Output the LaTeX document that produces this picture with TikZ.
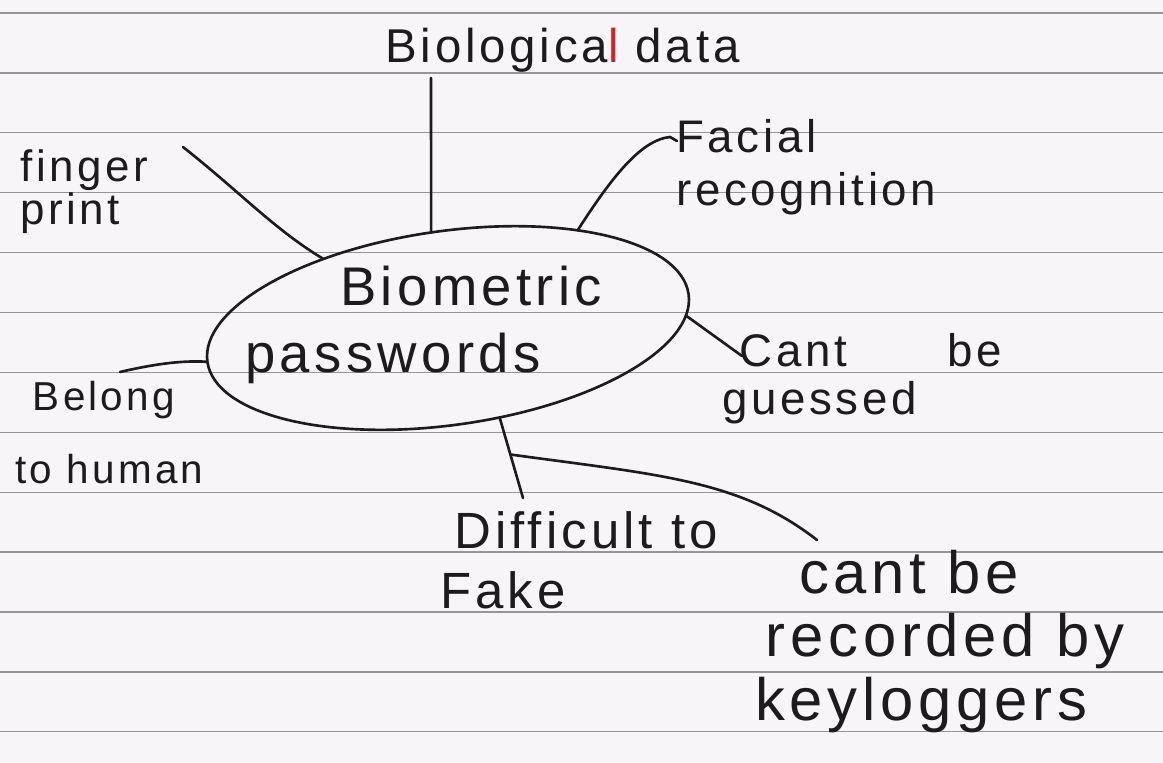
\documentclass[tikz,border=0pt]{standalone}
\usepackage{fontspec}
\setmainfont{Liberation Sans}[LetterSpace=8]
\usetikzlibrary{shapes.geometric}
\definecolor{paper}{RGB}{248,245,248}
\definecolor{ink}{RGB}{28,28,28}
\definecolor{ruling}{RGB}{150,150,150}
\definecolor{penred}{RGB}{200,40,40}

\begin{document}
\begin{tikzpicture}[
    x=0.02cm, y=-0.02cm,
    hub/.style={draw=ink, line width=1.5pt, ellipse, minimum width=9.72cm, minimum height=3.88cm, inner sep=0pt, outer sep=0pt, rotate=8},
    note/.style 2 args={text=ink, align=left, inner sep=0pt, anchor=base west, font=\fontsize{#1}{#2}\selectfont},
    pen/.style={draw=ink, line width=1.5pt, line cap=round},
    rule/.style={draw=ruling, line width=0.7pt}
]
    % paper
    \fill[paper] (0,0) rectangle (1163,762);
    \useasboundingbox (0,0) rectangle (1163,762);
    \foreach \i in {0,...,12}
        \draw[rule] (0,13+59.9*\i) -- (1163,13+59.9*\i);

    \node[hub] (hub) at (448,328) {};
    \node[note={31pt}{38pt}] (hubtxt) at (245,372) {\hspace*{54pt}Biometric\\passwords};

    \node[note={27pt}{30pt}] (biol) at (385,62) {Biologica{\color{penred}l} data};
    \node[note={25pt}{22pt}] (finger) at (20,224) {finger\\print};
    \node[note={26pt}{30pt}] (facial) at (676,205) {Facial\\recognition};
    \node[note={26pt}{27pt}] (guess) at (722,414) {\hspace*{10pt}Cant\hspace{2.2em}be\\guessed};
    \node[note={23pt}{41pt}] (belong) at (15,483) {\hspace*{10pt}Belong\\to human};
    \node[note={29pt}{34pt}] (diff) at (440,608) {\hspace*{8pt}Difficult to\\Fake};
    \node[note={34pt}{36pt}] (keylog) at (755,720) {\hspace*{25pt}cant be\\\hspace*{6pt}recorded by\\keyloggers};

    % free ends of the strokes
    \coordinate (biolEnd) at (431,78);
    \coordinate (fingerEnd) at (183,147);
    \coordinate (facialEnd) at (670,137);
    \coordinate (guessEnd) at (742,356);
    \coordinate (belongEnd) at (120,372);
    \coordinate (diffEnd) at (523,498);
    \coordinate (keylogEnd) at (817,540);

    \draw[pen] (hub.92) -- (biolEnd);
    \draw[pen] (hub.143) .. controls (275,230) and (240,192) .. (fingerEnd);
    \draw[pen] (hub.29) .. controls (610,180) and (640,140) .. (facialEnd) -- ++(7,4);
    \draw[pen] (hub.355) -- (guessEnd);
    \draw[pen] (hub.180) .. controls (180,360) and (150,365) .. (belongEnd);
    \draw[pen] (hub.292) -- coordinate[pos=0.46] (fork) (diffEnd);
    \draw[pen] (fork) .. controls (660,475) and (740,480) .. (keylogEnd);
\end{tikzpicture}
\end{document}
